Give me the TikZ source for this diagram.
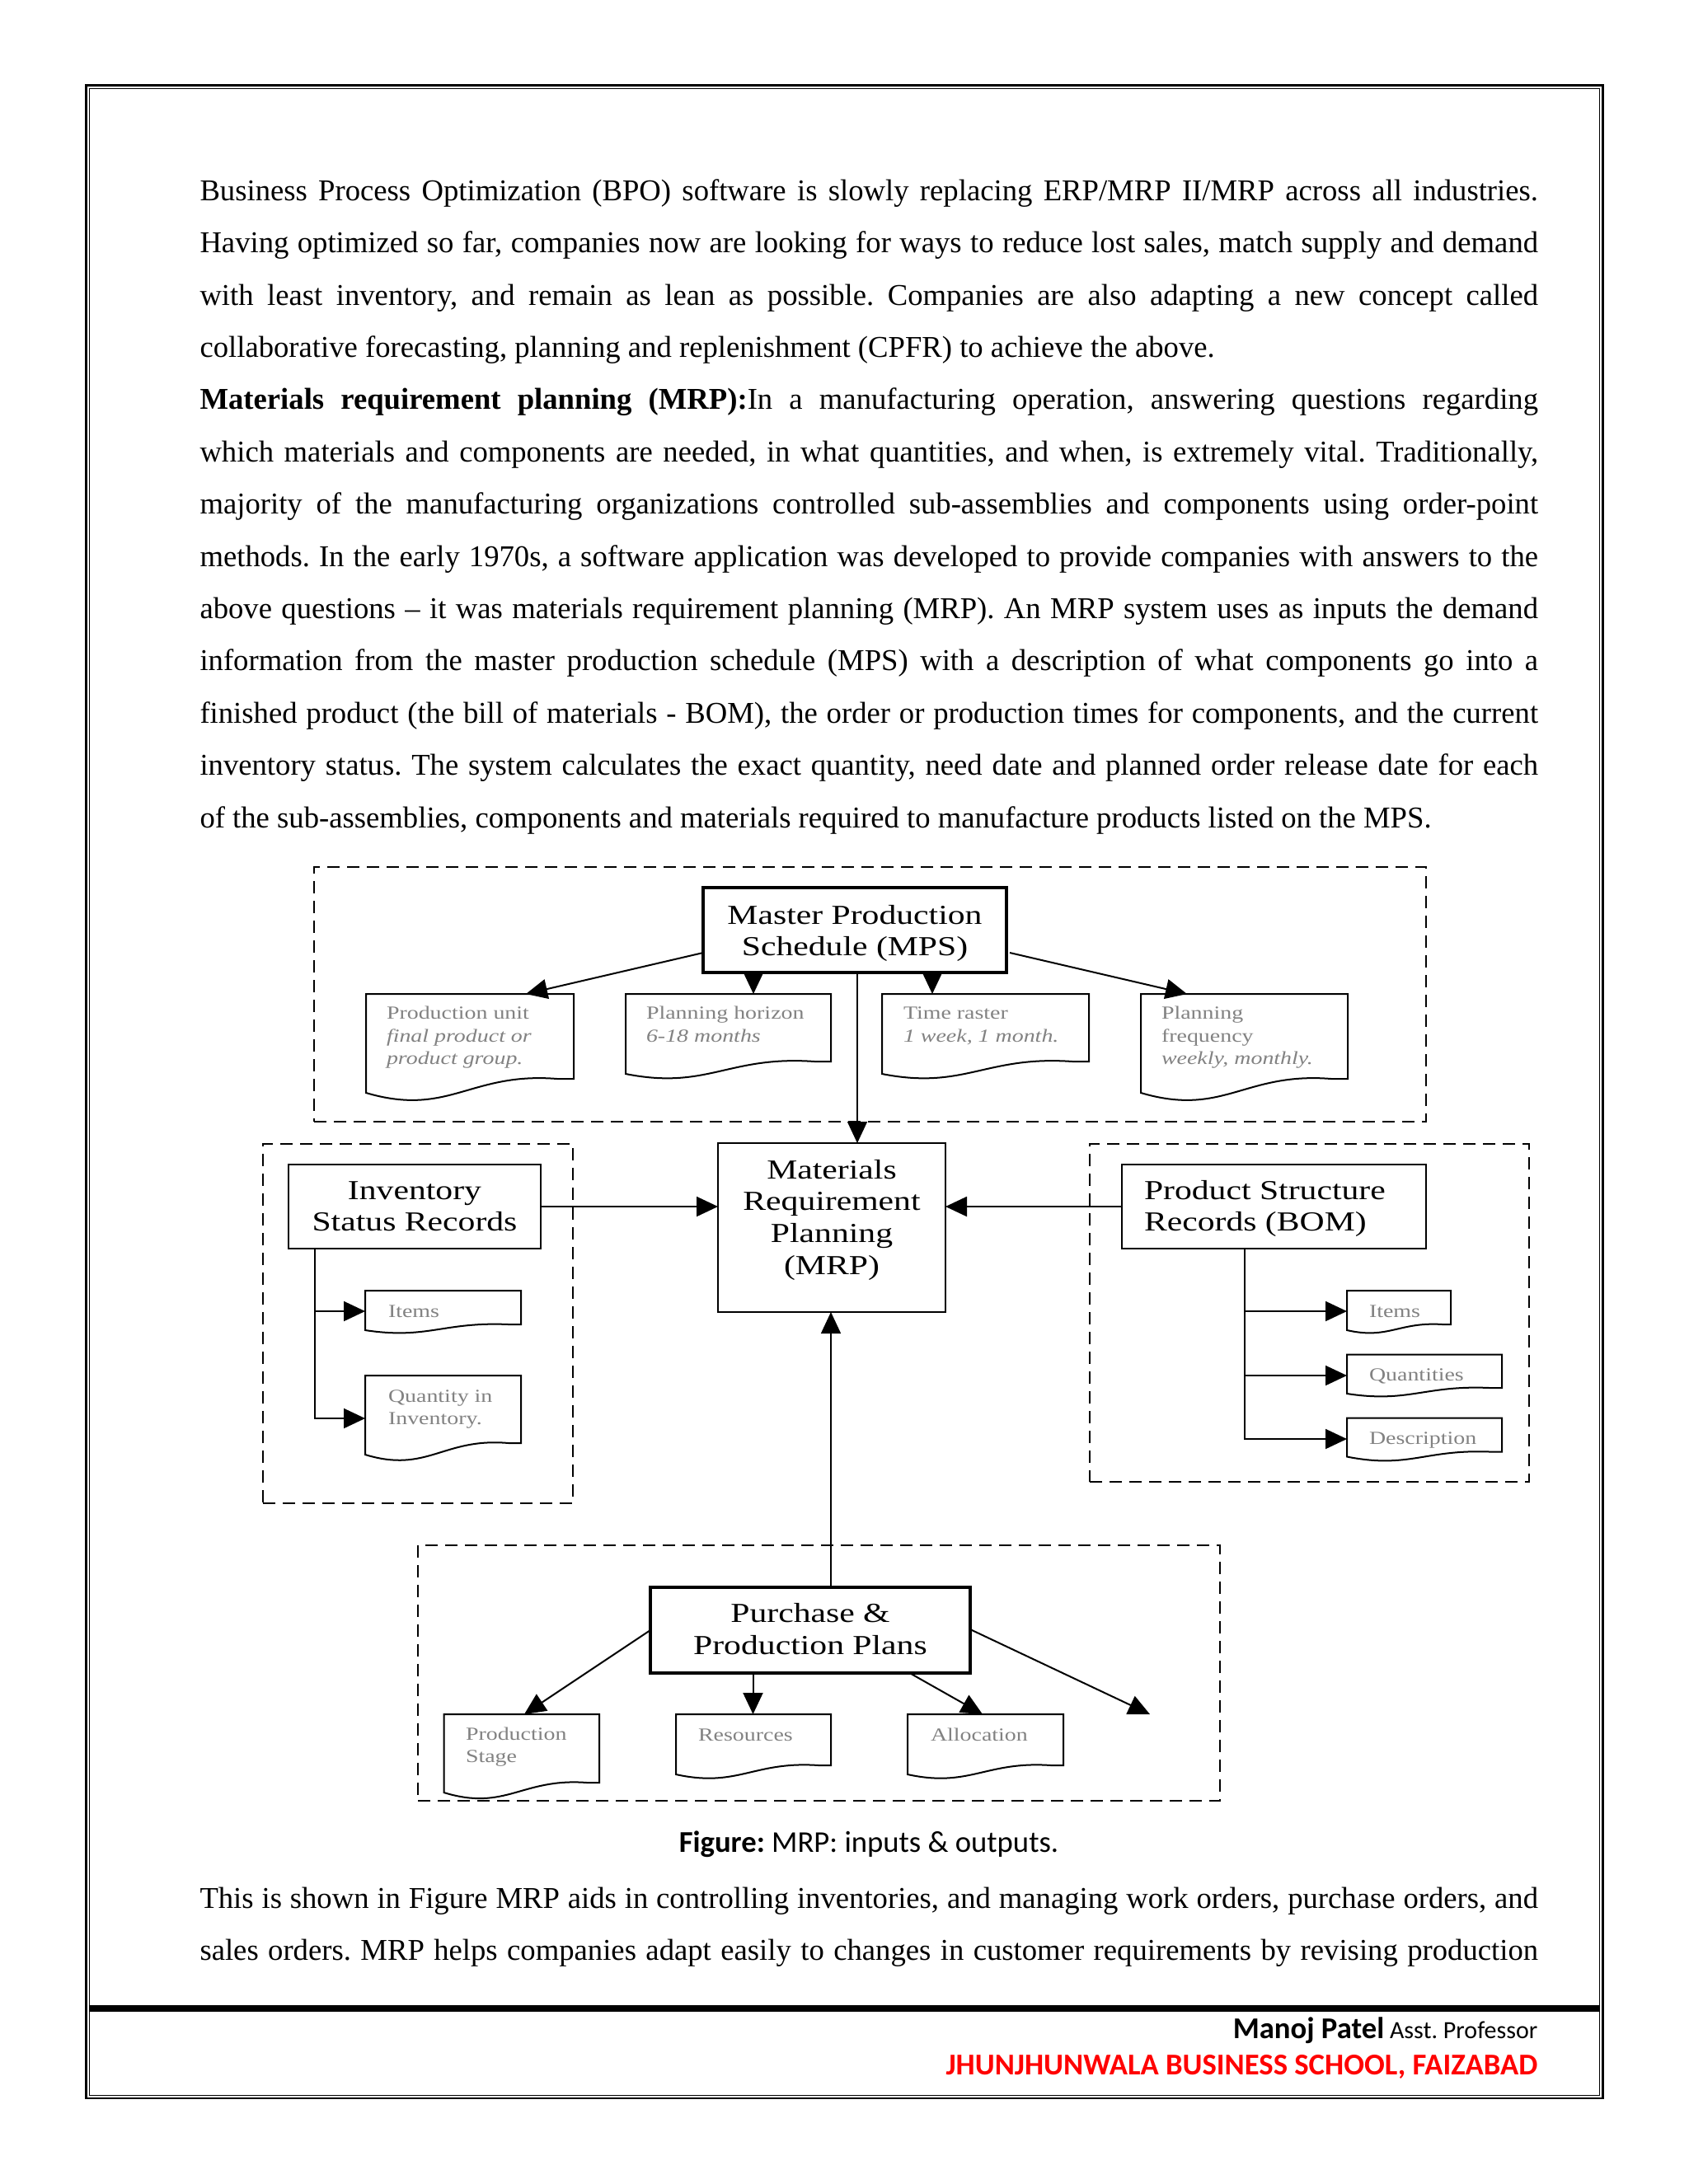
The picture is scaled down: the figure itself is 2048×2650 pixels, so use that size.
\documentclass[tikz,border=0pt]{standalone}
\usepackage{fontspec}
\setmainfont[Ligatures={TeX,NoCommon}]{Liberation Serif}
\newfontfamily\figfont[FakeStretch=1.25,Ligatures={TeX,NoCommon}]{Liberation Serif}
\newfontfamily\calfont{Carlito}
\usetikzlibrary{arrows.meta,calc,fit}
\definecolor{doctext}{RGB}{130,130,130}
\definecolor{footred}{RGB}{255,0,0}
\frenchspacing
\newcommand\jl[1]{\makebox[487pt][s]{#1}}
% name, L, T, R, y right bottom, y left bottom, y trough
\newcommand\docshape[7]{%
  \pgfmathsetmacro\dw{#4-#2}%
  \node[fit={(#2,#3) (#4,#6)}, inner sep=0pt, outer sep=0pt] (#1) {};
  \draw[docline] (#2,#6) -- (#2,#3) -- (#4,#3) -- (#4,#5) -- ({#4-0.08*\dw},#5)
    .. controls ({#2+0.5*\dw},{#5-0.5*(#6-#5)}) and ({#2+0.4*\dw},{#6+3.3*(#7-#6)}) .. (#2,#6) -- cycle;
}
\tikzset{
  grp/.style={draw, dash pattern=on 4.5pt off 2.7pt, line width=0.8pt, inner sep=0pt, outer sep=0pt},
  box/.style={draw, inner sep=0pt, outer sep=0pt},
  docline/.style={draw, fill=white, line width=0.6pt},
  arrw/.style={line width=0.6pt, -{Triangle[length=7.8pt,width=7.2pt]}},
  arrt/.style={line width=0.45pt, -{Triangle[length=7.8pt,width=7.2pt]}},
  bodyline/.style={anchor=base west, inner sep=0pt, outer sep=0pt, font=\fontsize{11pt}{13pt}\selectfont},
  figtxt/.style={inner sep=0pt, outer sep=0pt, font=\figfont\fontsize{10pt}{11.67pt}\selectfont},
  doctxt/.style={anchor=base west, inner sep=0pt, outer sep=0pt, text=doctext, font=\figfont\fontsize{6.7pt}{8.25pt}\selectfont},
}
\begin{document}
\begin{tikzpicture}[x=0.29995pt, y=-0.29995pt]
\useasboundingbox (0,0) rectangle (2048,2650);
\fill[white] (0,0) rectangle (2048,2650);

% page frame
\draw[line width=0.7pt] (104.5,103.5) rectangle (1944.5,2546);
\draw[line width=0.35pt] (108.5,107.5) rectangle (1940.5,2542.5);

% body text
\node[bodyline] (l1) at (242.5,243.3) {\jl{Business Process Optimization (BPO) software is slowly replacing ERP/MRP II/MRP across all industries.}};
\node[bodyline] (l2) at (242.5,306.7) {\jl{Having optimized so far, companies now are looking for ways to reduce lost sales, match supply and demand}};
\node[bodyline] (l3) at (242.5,370.1) {\jl{with least inventory, and remain as lean as possible. Companies are also adapting a new concept called}};
\node[bodyline] (l4) at (242.5,433.5) {collaborative forecasting, planning and replenishment (CPFR) to achieve the above.};
\node[bodyline] (l5) at (242.5,496.9) {\jl{\textbf{Materials requirement planning (MRP):}In a manufacturing operation, answering questions regarding}};
\node[bodyline] (l6) at (242.5,560.3) {\jl{which materials and components are needed, in what quantities, and when, is extremely vital. Traditionally,}};
\node[bodyline] (l7) at (242.5,623.7) {\jl{majority of the manufacturing organizations controlled sub-assemblies and components using order-point}};
\node[bodyline] (l8) at (242.5,687.1) {\jl{methods. In the early 1970s, a software application was developed to provide companies with answers to the}};
\node[bodyline] (l9) at (242.5,750.5) {\jl{above questions – it was materials requirement planning (MRP). An MRP system uses as inputs the demand}};
\node[bodyline] (l10) at (242.5,813.9) {\jl{information from the master production schedule (MPS) with a description of what components go into a}};
\node[bodyline] (l11) at (242.5,877.3) {\jl{finished product (the bill of materials - BOM), the order or production times for components, and the current}};
\node[bodyline] (l12) at (242.5,940.7) {\jl{inventory status. The system calculates the exact quantity, need date and planned order release date for each}};
\node[bodyline] (l13) at (242.5,1004.1) {of the sub-assemblies, components and materials required to manufacture products listed on the MPS.};

% ---------- diagram ----------
% group frames
\node[grp, fit={(381,1052) (1730,1361)}] (gtop) {};
\node[grp, fit={(319,1388) (695,1824)}] (ginv) {};
\node[grp, fit={(1322,1388) (1855,1798)}] (gbom) {};
\node[grp, fit={(507,1875) (1480,2185)}] (gpur) {};

% main boxes
\node[box, line width=1pt, fit={(853,1077) (1221,1180)}] (mps) {};
\node[box, line width=0.8pt, fit={(871,1387) (1147,1592)}] (mrp) {};
\node[box, line width=0.6pt, fit={(350,1413) (656,1515)}] (inv) {};
\node[box, line width=0.6pt, fit={(1361,1413) (1730,1515)}] (bom) {};
\node[box, line width=1pt, fit={(789,1926) (1177,2030)}] (pur) {};

\node[figtxt, anchor=base] (mpst) at (1037,1121) {\begin{tabular}[t]{@{}c@{}}Master Production\\Schedule (MPS)\end{tabular}};
\node[figtxt, anchor=base] (mrpt) at (1009,1430) {\begin{tabular}[t]{@{}c@{}}Materials\\Requirement\\Planning\\(MRP)\end{tabular}};
\node[figtxt, anchor=base] (invt) at (503,1455) {\begin{tabular}[t]{@{}c@{}}Inventory\\Status Records\end{tabular}};
\node[figtxt, anchor=base west] (bomt) at (1388,1455) {\begin{tabular}[t]{@{}l@{}}Product Structure\\Records (BOM)\end{tabular}};
\node[figtxt, anchor=base] (purt) at (983,1968.3) {\begin{tabular}[t]{@{}c@{}}Purchase \&\\Production Plans\end{tabular}};

% documents
\docshape{d1}{444}{1206}{696}{1309}{1326}{1335}
\docshape{d2}{759}{1206}{1008}{1288}{1303}{1309}
\docshape{d3}{1070}{1206}{1321}{1288}{1303}{1309}
\docshape{d4}{1384}{1206}{1635}{1309}{1326}{1335}
\docshape{di1}{443}{1566}{632}{1607}{1614}{1617.5}
\docshape{di2}{443}{1669}{632}{1751}{1765}{1772}
\docshape{db1}{1634}{1566}{1760}{1607}{1614}{1617.5}
\docshape{db2}{1634}{1643.5}{1822}{1684}{1691}{1694.5}
\docshape{db3}{1634}{1720.5}{1822}{1761.5}{1767.5}{1772}
\docshape{dp1}{538.5}{2080}{727}{2163}{2175}{2182}
\docshape{dp2}{820}{2080}{1008}{2142}{2153}{2158}
\docshape{dp3}{1101}{2080}{1290}{2142}{2153}{2158}

\node[doctxt] (d1t) at (469,1236.7) {\begin{tabular}[t]{@{}l@{}}Production unit\\\itshape final product or\\\itshape product group.\end{tabular}};
\node[doctxt] (d2t) at (784,1236.7) {\begin{tabular}[t]{@{}l@{}}Planning horizon\\\itshape 6-18 months\end{tabular}};
\node[doctxt] (d3t) at (1096,1236.7) {\begin{tabular}[t]{@{}l@{}}Time raster\\\itshape 1 week, 1 month.\end{tabular}};
\node[doctxt] (d4t) at (1409,1236.7) {\begin{tabular}[t]{@{}l@{}}Planning\\frequency\\\itshape weekly, monthly.\end{tabular}};
\node[doctxt] (di1t) at (471,1598) {Items};
\node[doctxt] (di2t) at (471,1701) {\begin{tabular}[t]{@{}l@{}}Quantity in\\Inventory.\end{tabular}};
\node[doctxt] (db1t) at (1661,1598) {Items};
\node[doctxt] (db2t) at (1661,1675) {Quantities};
\node[doctxt] (db3t) at (1661,1752.3) {Description};
\node[doctxt] (dp1t) at (565,2111) {\begin{tabular}[t]{@{}l@{}}Production\\Stage\end{tabular}};
\node[doctxt] (dp2t) at (847,2112) {Resources};
\node[doctxt] (dp3t) at (1129,2112) {Allocation};

% connectors from MPS
\draw[arrw] ($(mps.north west)+(0,79)$) -- ($(d1.north west)+(194,0)$);
\draw[arrw] ($(mps.south west)+(61,0)$) -- ($(d2.north west)+(155,0)$);
\draw[arrw] ($(mps.south west)+(278,0)$) -- ($(d3.north west)+(61,0)$);
\draw[arrw] ($(mps.north east)+(4,79)$) -- ($(d4.north west)+(56,0)$);
\draw[arrt] ($(mps.south west)+(187,0)$) -- ($(mrp.north west)+(169,0)$);

% inputs to MRP
\draw[arrw] (inv.east) -- (inv.east -| mrp.west);
\draw[arrw] (bom.west) -- (bom.west -| mrp.east);

% inventory tree
\coordinate (it) at ($(inv.south west)+(31.5,0)$);
\draw[arrw] (it) |- ($(di1.north west)+(0,25)$);
\draw[arrw] (it) |- ($(di2.north west)+(0,52)$);

% BOM tree
\coordinate (bt) at ($(bom.south west)+(149,0)$);
\draw[arrw] (bt) |- ($(db1.north west)+(0,25)$);
\draw[arrw] (bt) |- ($(db2.north west)+(0,25.5)$);
\draw[arrw] (bt) |- ($(db3.north west)+(0,25.5)$);

% purchase plans
\draw[arrt] ($(pur.north west)+(219,0)$) -- ($(mrp.south west)+(137,0)$);
\draw[arrw] ($(pur.north west)+(0,52)$) -- ($(dp1.north west)+(97.5,0)$);
\draw[arrw] ($(pur.south west)+(124.5,0)$) -- ($(dp2.north west)+(93.5,0)$);
\draw[arrw] ($(pur.south west)+(314.6,0)$) -- ($(dp3.north west)+(91,0)$);
\coordinate (pfree) at (1395,2080);
\draw[arrw] ($(pur.north east)+(0,51)$) -- (pfree);

% caption
\node[anchor=base, inner sep=0pt, font=\calfont\fontsize{11pt}{13pt}\selectfont] (cap) at (1054,2247.7) {\textbf{Figure:} MRP: inputs \& outputs.};

% text after figure
\node[bodyline] (l14) at (242.5,2315) {\jl{This is shown in Figure MRP aids in controlling inventories, and managing work orders, purchase orders, and}};
\node[bodyline] (l15) at (242.5,2378.3) {\jl{sales orders. MRP helps companies adapt easily to changes in customer requirements by revising production}};

% footer
\draw[line width=2.4pt] (108.5,2437) -- (1940.5,2437);
\node[anchor=base east, inner sep=0pt] (auth) at (1866,2473) {{\calfont\fontsize{11pt}{13pt}\selectfont\bfseries Manoj Patel}{\calfont\fontsize{9pt}{11pt}\selectfont\ Asst. Professor}};
\node[anchor=base east, inner sep=0pt, text=footred, font=\calfont\fontsize{11pt}{13pt}\selectfont\bfseries] (school) at (1866,2517.7) {JHUNJHUNWALA BUSINESS SCHOOL, FAIZABAD};
\end{tikzpicture}
\end{document}
